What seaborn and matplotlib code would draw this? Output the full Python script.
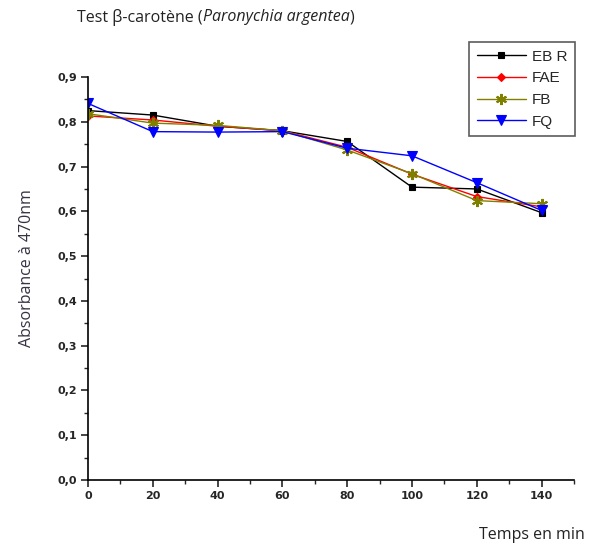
import matplotlib
matplotlib.use("Agg")
import matplotlib.pyplot as plt
import seaborn as sns
import pandas as pd
from matplotlib.ticker import MultipleLocator, FuncFormatter

temps = [0, 20, 40, 60, 80, 100, 120, 140]
ebr = [0.825, 0.815, 0.790, 0.780, 0.756, 0.654, 0.650, 0.597]
fae = [0.813, 0.804, 0.790, 0.780, 0.743, 0.683, 0.633, 0.610]
fb = [0.818, 0.797, 0.792, 0.780, 0.737, 0.684, 0.624, 0.617]
fq = [0.841, 0.778, 0.777, 0.778, 0.741, 0.724, 0.664, 0.602]
series = ["EBR", "FAE", "FB", "FQ"]
legend_labels = ["EB R", "FAE", "FB", "FQ"]

rows = []
for name, vals in zip(series, [ebr, fae, fb, fq]):
    for t, v in zip(temps, vals):
        rows.append({"Temps": t, "Absorbance": v, "Serie": name})
df = pd.DataFrame(rows)

sns.set_style("ticks")
plt.rcParams["font.family"] = ["Liberation Sans", "DejaVu Sans"]

fig = plt.figure(figsize=(5.9, 5.45), dpi=100)
ax = fig.add_axes([88/590, 1-480/545, (574-88)/590, (480-77)/545])

palette = {"EBR": "black", "FAE": "#ff0000", "FB": "#808000", "FQ": "#0000ff"}
markers = {"EBR": "s", "FAE": "D", "FB": (6, 2, 0), "FQ": "v"}
sizes_m = {"EBR": 5, "FAE": 4.5, "FB": 8, "FQ": 7}
mew = {"EBR": 0.8, "FAE": 0.8, "FB": 1.5, "FQ": 0.8}

for name, lab in zip(series, legend_labels):
    sub = df[df["Serie"] == name]
    sns.lineplot(data=sub, x="Temps", y="Absorbance", color=palette[name],
                 marker=markers[name], markersize=sizes_m[name],
                 markeredgecolor=palette[name], markerfacecolor=palette[name],
                 markeredgewidth=mew[name], linewidth=1.0, ax=ax, label=lab)

ax.set_xlim(0, 150)
ax.set_ylim(0, 0.9)
ax.xaxis.set_major_locator(MultipleLocator(20))
ax.xaxis.set_minor_locator(MultipleLocator(10))
ax.yaxis.set_major_locator(MultipleLocator(0.1))
ax.yaxis.set_minor_locator(MultipleLocator(0.05))
ax.xaxis.set_major_formatter(FuncFormatter(lambda v, p: f"{v:.0f}"))
ax.yaxis.set_major_formatter(FuncFormatter(lambda v, p: f"{v:.1f}".replace(".", ",")))
ax.tick_params(which="major", direction="out", length=5, width=1.2, labelsize=8, pad=3)
ax.tick_params(which="minor", direction="out", length=3, width=1.0)
for lab in ax.get_xticklabels() + ax.get_yticklabels():
    lab.set_fontweight("bold")
    lab.set_family(["DejaVu Sans"])
for s in ["top", "right"]:
    ax.spines[s].set_visible(False)
for s in ["left", "bottom"]:
    ax.spines[s].set_linewidth(1.2)
    ax.spines[s].set_color("black")

ax.set_xlabel("")
ax.set_ylabel("")
fig.text(27/590, 1-268/545, "Absorbance à 470nm", rotation=90, va="center", ha="center",
         fontsize=11.5, color="#333344", family=["Open Sans", "DejaVu Sans"])
fig.text(585/590, 1-535/545, "Temps en min", ha="right", va="center",
         fontsize=11.5, color="#222222", family=["Open Sans", "DejaVu Sans"])
fig.text(77/590, 1-17/545, "Test β-carotène (", ha="left", va="center",
         fontsize=11.5, color="#222222", family=["Open Sans", "DejaVu Sans"])
t1 = fig.texts[-1]
fig.canvas.draw()
bb = t1.get_window_extent()
fig.text(bb.x1/590, 1-17/545, "Paronychia argentea", ha="left", va="center",
         fontsize=11.5, color="#222222", style="italic", family=["Open Sans", "DejaVu Sans"])
t2 = fig.texts[-1]
fig.canvas.draw()
bb2 = t2.get_window_extent()
fig.text(bb2.x1/590, 1-17/545, ")", ha="left", va="center",
         fontsize=11.5, color="#222222", family=["Open Sans", "DejaVu Sans"])

handles, labels = ax.get_legend_handles_labels()
leg = ax.legend(handles, labels, loc="upper left",
                bbox_to_anchor=((469-88)/486, 1+(77-42)/403),
                frameon=True, fancybox=False, edgecolor="#333333",
                fontsize=11, handlelength=3.2, borderpad=0.5, labelspacing=0.5,
                handletextpad=0.4, borderaxespad=0)
leg.get_frame().set_linewidth(1.2)

fig.savefig("out.png", dpi=100)
